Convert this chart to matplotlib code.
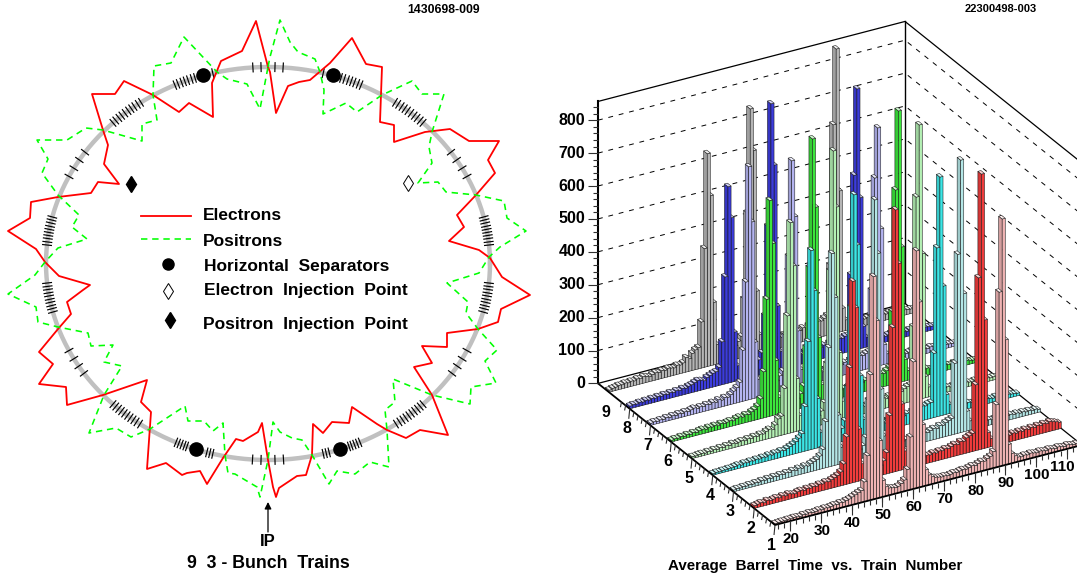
import numpy as np
import matplotlib
matplotlib.use('Agg')
import matplotlib.pyplot as plt
from matplotlib.collections import PolyCollection, LineCollection
from matplotlib.colors import to_rgb

plt.rcParams['font.family'] = ['Liberation Sans', 'DejaVu Sans']
plt.rcParams['font.weight'] = 'bold'

# ---- left panel: ring schematic
electron_x = [268, 270, 276, 288, 299, 310, 330, 352, 366, 382, 380, 394, 394, 425, 450, 469, 499, 488, 495, 476,
              457, 464, 449, 479, 490, 502, 530, 501, 498, 478, 447, 447, 422, 432, 414, 432, 442, 448, 420, 406,
              387, 377, 352, 349, 332, 323, 313, 312, 306, 297, 279, 276, 273, 268, 262, 258, 243, 236, 223, 207,
              200, 187, 182, 166, 147, 151, 141, 147, 103, 67, 66, 39, 53, 39, 58, 71, 67, 83, 90, 59,
              45, 36, 8, 30, 31, 58, 91, 98, 119, 104, 108, 103, 92, 115, 124, 153, 179, 189, 213, 212,
              221, 242, 256, 268]
electron_y = [67, 72, 113, 86, 82, 80, 63, 38, 64, 67, 122, 125, 142, 132, 129, 141, 141, 160, 173, 195,
              215, 227, 241, 250, 258, 277, 295, 309, 322, 329, 333, 347, 346, 363, 367, 395, 420, 435, 430, 438,
              430, 424, 407, 423, 422, 433, 424, 455, 475, 476, 488, 497, 487, 460, 423, 432, 441, 439, 458, 484,
              471, 473, 475, 463, 469, 412, 402, 380, 395, 405, 387, 384, 364, 352, 329, 314, 302, 290, 285, 276,
              262, 249, 231, 218, 202, 197, 193, 182, 184, 164, 145, 130, 94, 94, 81, 95, 112, 103, 117, 83,
              61, 51, 21, 67]
positron_x = [268, 270, 280, 290, 298, 315, 320, 324, 323, 346, 357, 382, 412, 422, 444, 432, 429, 432, 418, 438,
              446, 476, 504, 507, 526, 500, 489, 479, 447, 457, 468, 466, 478, 497, 485, 496, 471, 470, 432, 393,
              395, 385, 387, 389, 370, 355, 337, 329, 312, 302, 292, 280, 273, 268, 260, 257, 235, 228, 225, 223,
              213, 204, 188, 185, 150, 131, 116, 89, 104, 122, 104, 113, 91, 88, 58, 38, 36, 8, 35, 45,
              58, 87, 72, 79, 58, 42, 48, 37, 67, 86, 103, 142, 142, 157, 153, 154, 171, 184, 217, 227,
              247, 260, 268]
positron_y = [67, 57, 20, 42, 52, 59, 72, 90, 114, 103, 112, 95, 81, 94, 94, 132, 147, 163, 183, 182,
              192, 195, 201, 218, 231, 247, 257, 273, 283, 292, 302, 313, 329, 350, 361, 383, 387, 404, 395, 379,
              402, 410, 430, 467, 462, 474, 471, 484, 455, 440, 438, 432, 422, 460, 497, 487, 474, 473, 455, 423,
              431, 421, 421, 406, 429, 437, 428, 433, 395, 366, 362, 345, 346, 333, 327, 322, 307, 294, 275, 262,
              248, 239, 227, 215, 195, 173, 159, 140, 140, 128, 130, 141, 124, 120, 95, 66, 63, 37, 72, 79,
              84, 109, 67]

ring_x0, ring_y0, ring_a, ring_b = 268, 263.5, 222, 196.5
# magnet positions on the ring, degrees, right half (left half is the mirror image)
magnet_angles = [88.2, 86.1,
                 74.0, 75.6, 72.8,
                 70.8, 69.9, 68.9, 68.0, 67.1, 66.1, 65.2,
                 55.1, 54.1, 53.0, 52.0, 51.0, 49.9, 48.8, 47.8, 46.7, 45.7,
                 34.5, 31.8, 29.0, 26.3,
                 13.7, 12.8, 11.9, 10.9, 10.0, 9.1, 8.2, 7.3, 6.3, 5.4,
                 -5.7, -6.7, -7.6, -8.6, -9.5, -10.5, -11.4, -12.4, -13.3, -14.3,
                 -26.3, -29.0, -31.5, -34.0,
                 -45.7, -46.7, -47.7, -48.7, -49.7, -50.7, -51.7, -52.7, -53.7, -54.8,
                 -65.5, -66.3, -67.1, -67.9, -68.6,
                 -74.0, -74.8, -75.6,
                 -86.0, -88.2]
separator_x = [203, 333, 196, 340]
separator_y = [75, 75, 449, 449]

# ---- right panel: entries per 1 ns bin, x = 15..114, one list per train
train1 = [4, 5, 6, 5, 7, 6, 8, 7, 6, 9, 8, 10, 8, 9, 11, 9, 12, 10, 12, 14, 13, 16, 15, 18, 20,
          24, 28, 32, 36, 60, 137, 381, 677, 540, 173, 50, 28, 22, 20, 18, 20, 26, 34, 64, 160, 386, 721, 563, 188, 48,
          30, 22, 18, 16, 14, 15, 13, 15, 17, 16, 18, 20, 18, 21, 24, 22, 26, 30, 28, 34, 38, 50, 190, 530, 750,
          380, 60, 30, 20, 14, 12, 15, 13, 16, 14, 12, 15, 13, 11, 14, 12, 10, 13, 11, 9, 12, 10, 8, 9, 7]
train2 = [8, 10, 12, 9, 14, 11, 13, 15, 12, 16, 13, 17, 14, 12, 16, 18, 15, 19, 17, 20, 18, 22, 20, 24, 22,
          26, 30, 34, 42, 64, 144, 352, 612, 529, 158, 50, 36, 28, 24, 22, 24, 30, 42, 65, 175, 440, 795, 630, 200, 55,
          34, 26, 22, 20, 24, 21, 25, 23, 27, 24, 28, 26, 30, 28, 32, 36, 33, 40, 38, 46, 50, 55, 200, 523, 836,
          390, 45, 25, 18, 20, 22, 19, 23, 20, 24, 21, 25, 22, 26, 23, 27, 24, 28, 25, 29, 26, 30, 27, 24, 20]
train3 = [5, 7, 6, 8, 7, 9, 8, 10, 9, 12, 10, 13, 11, 14, 12, 15, 13, 16, 14, 18, 15, 20, 17, 22, 19,
          24, 28, 32, 40, 58, 140, 362, 646, 510, 150, 50, 34, 26, 22, 20, 23, 28, 38, 60, 170, 420, 775, 610, 195, 50,
          30, 24, 20, 18, 22, 19, 23, 21, 25, 22, 26, 24, 28, 26, 30, 34, 31, 38, 36, 42, 46, 50, 215, 544, 828,
          420, 60, 28, 18, 14, 16, 13, 15, 17, 14, 16, 13, 15, 12, 14, 16, 13, 15, 12, 14, 11, 13, 10, 12, 9]
train4 = [4, 6, 5, 7, 6, 8, 7, 9, 11, 8, 12, 10, 13, 11, 14, 12, 15, 13, 17, 14, 18, 16, 20, 18, 22,
          26, 30, 36, 44, 55, 135, 330, 605, 480, 150, 45, 32, 24, 20, 18, 22, 28, 40, 60, 160, 400, 740, 585, 185, 50,
          32, 26, 22, 24, 20, 26, 22, 28, 24, 30, 26, 32, 28, 34, 30, 36, 40, 38, 44, 42, 46, 48, 195, 513, 726,
          392, 60, 28, 20, 16, 18, 15, 17, 19, 16, 14, 17, 15, 13, 16, 14, 12, 15, 13, 11, 14, 12, 10, 9, 8]
train5 = [6, 5, 7, 8, 6, 9, 7, 10, 8, 11, 9, 12, 10, 14, 11, 13, 15, 12, 16, 14, 18, 16, 20, 18, 24,
          28, 24, 36, 52, 58, 140, 358, 639, 505, 160, 45, 30, 24, 20, 18, 22, 30, 42, 65, 180, 460, 823, 650, 205, 55,
          36, 28, 22, 24, 20, 26, 22, 24, 28, 25, 30, 26, 32, 28, 34, 30, 36, 40, 38, 44, 48, 50, 225, 617, 834,
          440, 65, 30, 22, 18, 16, 18, 14, 16, 13, 15, 17, 14, 12, 15, 13, 11, 14, 12, 10, 13, 11, 9, 10, 8]
train6 = [5, 7, 6, 9, 7, 10, 8, 11, 9, 12, 14, 11, 15, 13, 16, 12, 17, 14, 16, 18, 15, 20, 22, 19, 24,
          22, 28, 32, 40, 60, 140, 358, 656, 523, 165, 50, 34, 28, 24, 22, 26, 30, 44, 65, 180, 419, 809, 599, 200, 55,
          36, 30, 24, 22, 26, 23, 27, 24, 28, 30, 26, 32, 28, 34, 30, 36, 32, 38, 42, 40, 46, 52, 220, 588, 826,
          410, 65, 30, 24, 18, 20, 17, 19, 22, 18, 16, 19, 17, 15, 18, 16, 14, 17, 15, 13, 12, 14, 11, 10, 9]
train7 = [6, 8, 7, 9, 8, 11, 9, 12, 10, 13, 11, 14, 12, 15, 18, 14, 17, 15, 19, 17, 21, 18, 24, 20, 26,
          24, 30, 38, 46, 60, 155, 360, 708, 538, 170, 55, 40, 30, 26, 24, 28, 34, 48, 60, 165, 403, 692, 520, 170, 50,
          38, 30, 26, 28, 24, 30, 26, 32, 28, 34, 30, 36, 32, 38, 34, 40, 36, 42, 46, 44, 48, 50, 234, 574, 724,
          415, 60, 30, 22, 18, 20, 17, 19, 16, 18, 20, 17, 15, 18, 16, 14, 17, 15, 13, 16, 14, 12, 11, 10, 9]
train8 = [8, 10, 9, 12, 10, 13, 11, 14, 12, 15, 13, 16, 14, 17, 15, 18, 16, 20, 18, 22, 24, 28, 32, 30, 26,
          34, 38, 42, 44, 55, 130, 325, 597, 500, 150, 45, 36, 30, 26, 28, 32, 38, 46, 65, 175, 444, 815, 626, 195, 55,
          40, 32, 28, 30, 26, 32, 28, 34, 30, 36, 32, 38, 34, 40, 36, 42, 38, 44, 48, 46, 50, 50, 231, 532, 792,
          459, 65, 30, 24, 20, 22, 19, 21, 18, 20, 22, 19, 17, 20, 18, 16, 19, 17, 15, 18, 16, 14, 13, 12, 11]
train9 = [6, 9, 10, 13, 12, 15, 13, 16, 14, 18, 16, 20, 18, 15, 19, 22, 20, 24, 22, 26, 24, 22, 28, 26, 30,
          44, 38, 52, 60, 65, 140, 361, 647, 517, 190, 60, 48, 38, 34, 30, 34, 40, 52, 65, 175, 435, 749, 620, 190, 55,
          44, 36, 30, 32, 28, 34, 30, 36, 32, 38, 34, 40, 36, 42, 38, 44, 40, 46, 50, 48, 54, 60, 210, 635, 863,
          429, 70, 32, 26, 22, 24, 21, 23, 20, 22, 24, 21, 19, 22, 20, 18, 21, 19, 17, 20, 18, 16, 15, 14, 13]
trains = [train1, train2, train3, train4, train5, train6, train7, train8, train9]
train_colors = ['#f0b4b4', '#f03c3c', '#b4e6e6', '#3ce6e6', '#b4f0b4', '#3ce63c', '#b4b4f0', '#3c3cdc', '#b5b5b5']
bin_start = 15
z_labels = [0, 100, 200, 300, 400, 500, 600, 700, 800]
x_labels = [20, 30, 40, 50, 60, 70, 80, 90, 100, 110]
y_labels = [1, 2, 3, 4, 5, 6, 7, 8, 9]

# lego box
x_min, x_max = 15, 115
y_min, y_max = 1, 9.53
z_max = 857
bar_depth = 0.17


def project(x, y, z):
    # oblique projection onto the page, pixels
    px = 775 + (x - x_min) * 3.07 - (y - y_min) * 20.75
    py = 525 - (x - x_min) * 0.80 - (y - y_min) * 16.6 - z * 0.329
    return px, py


fig = plt.figure(figsize=(10.77, 5.79), dpi=100)
ax = fig.add_axes([0, 0, 1, 1])
ax.set_xlim(0, 1077)
ax.set_ylim(579, 0)
ax.axis('off')

# ring
t = np.radians(np.linspace(0, 360, 361))
ax.plot(ring_x0 + ring_a * np.cos(t), ring_y0 - ring_b * np.sin(t), color='#c0c0c0', lw=3.2, zorder=1)

# magnets, drawn across the ring
segs = []
for ang in magnet_angles:
    for a in (np.radians(ang), np.radians(180 - ang)):
        cx = ring_x0 + ring_a * np.cos(a)
        cy = ring_y0 - ring_b * np.sin(a)
        nx, ny = np.cos(a) / ring_a, -np.sin(a) / ring_b
        n = np.hypot(nx, ny)
        nx, ny = nx / n * 5, ny / n * 5
        segs.append([(cx - nx, cy - ny), (cx + nx, cy + ny)])
ax.add_collection(LineCollection(segs, colors='black', linewidths=0.85, zorder=2))

ax.plot(electron_x, electron_y, color='#ff0000', lw=1.3, zorder=3)
ax.plot(positron_x, positron_y, color='#00ff00', lw=1.15, dashes=(4, 3), zorder=3)
ax.plot(separator_x, separator_y, 'o', color='black', ms=9.5, zorder=4)
ax.plot([131], [184], 'd', color='black', ms=8, zorder=4)
ax.plot([408], [183], 'd', mfc='white', mec='black', mew=0.7, ms=8, zorder=4)

# legend
ax.plot([141, 191], [216, 216], color='#ff0000', lw=1.3)
ax.plot([141, 191], [239, 239], color='#00ff00', lw=1.15, dashes=(4, 3))
ax.plot([168], [264], 'o', color='black', ms=8)
ax.plot([168], [291], 'd', mfc='white', mec='black', mew=0.7, ms=8)
ax.plot([170], [320], 'd', color='black', ms=8)
legend_fs = 12.5
ax.text(203, 216, 'Electrons', fontsize=legend_fs, va='center', ha='left')
ax.text(203, 241, 'Positrons', fontsize=legend_fs, va='center', ha='left')
ax.text(204, 266, 'Horizontal  Separators', fontsize=legend_fs, va='center', ha='left')
ax.text(204, 291, 'Electron  Injection  Point', fontsize=legend_fs, va='center', ha='left')
ax.text(203, 324, 'Positron  Injection  Point', fontsize=legend_fs, va='center', ha='left')

ax.annotate('', xy=(268, 502), xytext=(268, 532),
            arrowprops=dict(arrowstyle='-|>', color='black', lw=0.9, mutation_scale=10, shrinkA=0, shrinkB=0))
ax.text(268, 541, 'IP', fontsize=12, va='center', ha='center')
ax.text(268, 564, '9  3 - Bunch  Trains', fontsize=12.8, va='center', ha='center')
ax.text(444, 10, '1430698-009', fontsize=8.8, va='center', ha='center')

# back walls of the lego box
corner = project(x_max, y_min, 0)
back = project(x_min, y_max, 0)
rear = project(x_max, y_max, 0)
for z in z_labels[1:]:
    ax.plot([back[0], rear[0], corner[0]],
            [back[1] - z * 0.329, rear[1] - z * 0.329, corner[1] - z * 0.329],
            color='black', lw=0.7, dashes=(5, 6), zorder=1)
ax.plot([back[0], rear[0], corner[0]], [back[1] - z_max * 0.329, rear[1] - z_max * 0.329, corner[1] - z_max * 0.329],
        color='black', lw=0.9, zorder=1)
ax.plot([back[0], rear[0], corner[0]], [back[1], rear[1], corner[1]], color='black', lw=0.9, zorder=1)
ax.plot([rear[0], rear[0]], [rear[1], rear[1] - z_max * 0.329], color='black', lw=1.0, zorder=1)

# bars, back row first, high x first so that nearer boxes cover farther ones
polys = []
faces = []
for row in range(len(trains) - 1, -1, -1):
    rgb = np.array(to_rgb(train_colors[row]))
    y0 = y_labels[row]
    y1 = y0 + bar_depth
    for i in range(len(trains[row]) - 1, -1, -1):
        x0 = bin_start + i
        x1 = x0 + 1
        z = trains[row][i]
        polys.append([project(x0, y0, 0), project(x0, y1, 0), project(x0, y1, z), project(x0, y0, z)])
        faces.append(rgb * 0.88)
        polys.append([project(x0, y0, 0), project(x1, y0, 0), project(x1, y0, z), project(x0, y0, z)])
        faces.append(rgb)
        polys.append([project(x0, y0, z), project(x1, y0, z), project(x1, y1, z), project(x0, y1, z)])
        faces.append(rgb * 0.25 + 0.75)
ax.add_collection(PolyCollection(polys, facecolors=faces, edgecolors='#181818', linewidths=0.38, zorder=5))

# axes lines and ticks in front of the bars
ax.plot([back[0], project(x_min, y_min, 0)[0], corner[0]],
        [back[1], project(x_min, y_min, 0)[1], corner[1]], color='black', lw=1.3, zorder=6)
ax.plot([back[0], back[0]], [back[1], back[1] - z_max * 0.329], color='black', lw=1.5, zorder=6)

tick_segs = []
for z in range(0, z_max + 1, 20):
    px, py = project(x_min, y_max, z)
    tick_segs.append([(px - (10 if z % 100 == 0 else 5), py), (px, py)])
for x in range(x_min + 1, x_max + 1, 2):
    px, py = project(x, y_min, 0)
    tick_segs.append([(px, py), (px, py + 5)])
for x in x_labels:
    px, py = project(x, y_min, 0)
    tick_segs.append([(px, py), (px, py + 10)])
for k in range(5, 43):
    y = k * 0.2
    px, py = project(x_min, y, 0)
    major = k % 5 == 0
    tick_segs.append([(px, py), (px - 1, py + (10 if major else 5))])
ax.add_collection(LineCollection(tick_segs, colors='#303030', linewidths=0.8, zorder=6))

for z in z_labels:
    px, py = project(x_min, y_max, z)
    ax.text(px - 13, py, str(z), fontsize=11.5, va='center', ha='right')
for x in x_labels:
    px, py = project(x, y_min, 0)
    ax.text(min(px + 1, 1062), py + 18, str(x), fontsize=11, va='center', ha='center')
for y in y_labels:
    px, py = project(x_min, y, 0)
    ax.text(px - 3, py + 20, str(y), fontsize=11.5, va='center', ha='center')

ax.text(815, 566, 'Average  Barrel  Time  vs.  Train  Number', fontsize=10.9, va='center', ha='center')
ax.text(1001, 9, '22300498-003', fontsize=8, va='center', ha='center')

fig.savefig('out.png', dpi=100)
